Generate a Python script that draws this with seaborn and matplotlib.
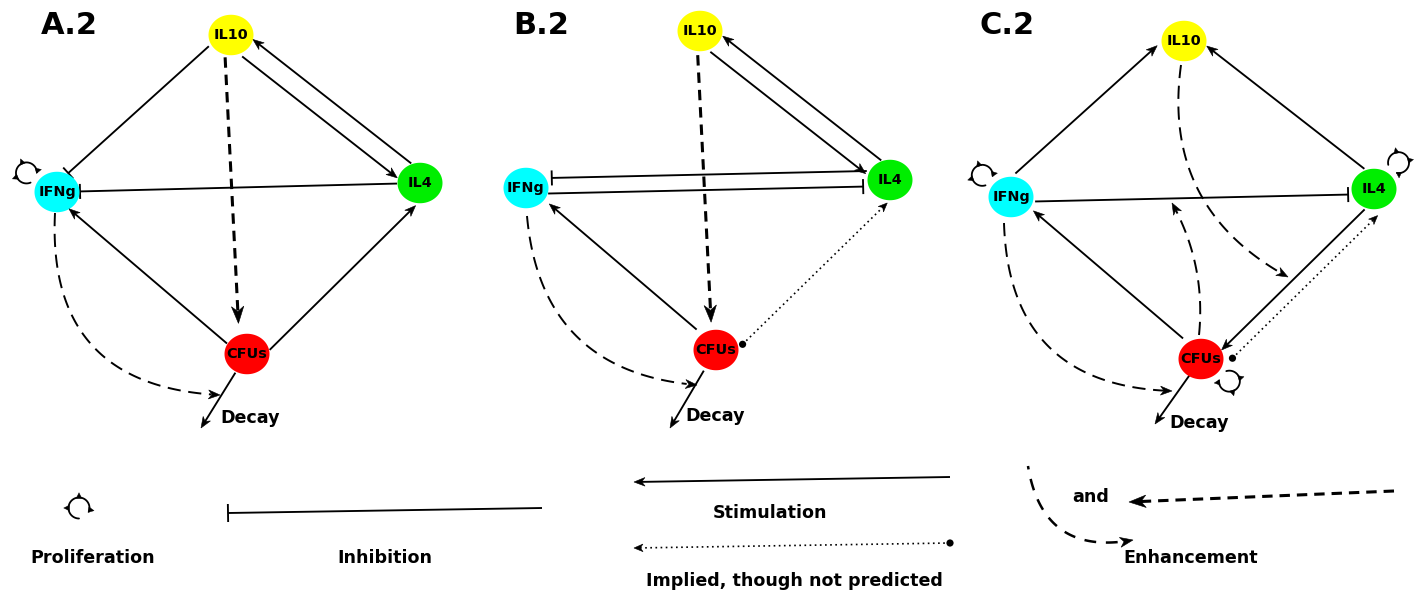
import numpy as np
import pandas as pd
import matplotlib
matplotlib.use("Agg")
import matplotlib.pyplot as plt
from matplotlib.path import Path
from matplotlib.patches import Polygon, Circle
import seaborn as sns

# ---------------------------------------------------------------- data
panels = ["A.2", "B.2", "C.2"]
nodes = ["IL10", "IFNg", "IL4", "CFUs"]
node_colors = ["#ffff00", "#00ffff", "#00ee00", "#ff0000"]

# interactions of each network: (source, target, kind)
edges = {
    "A.2": [("IL10", "IFNg", "inhibition"), ("IL10", "IL4", "stimulation"),
            ("IL4", "IL10", "stimulation"), ("IL4", "IFNg", "inhibition"),
            ("IL10", "CFUs", "enhancement"), ("CFUs", "IFNg", "stimulation"),
            ("CFUs", "IL4", "stimulation")],
    "B.2": [("IL10", "IL4", "stimulation"), ("IL4", "IL10", "stimulation"),
            ("IL4", "IFNg", "inhibition"), ("IFNg", "IL4", "inhibition"),
            ("IL10", "CFUs", "enhancement"), ("CFUs", "IFNg", "stimulation"),
            ("CFUs", "IL4", "implied")],
    "C.2": [("IFNg", "IL10", "stimulation"), ("IL4", "IL10", "stimulation"),
            ("IFNg", "IL4", "inhibition"), ("CFUs", "IFNg", "stimulation"),
            ("IL4", "CFUs", "stimulation"), ("CFUs", "IL4", "implied")],
}
# self-proliferating species
proliferation = {"A.2": ["IFNg"], "B.2": [], "C.2": ["IFNg", "IL4", "CFUs"]}
# enhancing (curved, dashed) influences: source species
enhancers = {"A.2": ["IFNg"], "B.2": ["IFNg"], "C.2": ["IFNg", "IL10", "CFUs"]}

legend_labels = ["Proliferation", "Inhibition", "Stimulation",
                 "Implied, though not predicted", "and", "Enhancement"]

# ---------------------------------------------------------------- layout
node_x = {"A.2": [231, 57, 420, 247], "B.2": [700, 526, 890, 716],
          "C.2": [1184, 1011, 1374, 1201]}
node_y = {"A.2": [35, 192, 183, 354], "B.2": [31, 188, 180, 350],
          "C.2": [41, 197, 189, 359]}
label_pos = {"A.2": (69, 25), "B.2": (541, 25), "C.2": (1007, 25)}
# per edge: (perpendicular offset, gap at source, gap at target)
edge_geom = {
    "A.2": [(6.5, 24, 21), (10, 22, 21), (10, 19, 20), (0, 23, 23),
            (7, 22, 31), (-5, 22, 20), (13, 19, 19)],
    "B.2": [(10, 21, 23), (10, 19, 21), (9.5, 23, 26), (6, 22, 27),
            (3.5, 24, 28), (3, 28, 28), (14.5, 23, 18)],
    "C.2": [(-14.5, 19, 23), (10, 20, 21), (5, 24, 26), (4, 27, 26),
            (-8, 21, 21), (21.5, 23, 16)],
}
# decay arrow of the CFUs: tip, gap at node, label position
decay_tip = {"A.2": (201, 428), "B.2": (670, 428), "C.2": (1155, 424)}
decay_gap = {"A.2": 22, "B.2": 24, "C.2": 15}
decay_label = {"A.2": (250, 418), "B.2": (715, 416), "C.2": (1199, 423)}
# loop direction (degrees, screen y downward) from each proliferating node
loop_dir = {"A.2": [-148], "B.2": [], "C.2": [-143, -47, 38]}
# enhancement curves: start offset from node, end point, bend
enh_geom = {
    "A.2": [((-2, 21), (220, 395), 0.50)],
    "B.2": [((1, 28), (697, 385), 0.42)],
    "C.2": [((-7, 26), (1172, 391), 0.47), ((-3, 24), (1288, 277), 0.345),
            ((-2, -24), (1172, 203), 0.156)],
}

# ---------------------------------------------------------------- style
sns.set_theme(style="white")
plt.rcParams["font.family"] = ["DejaVu Sans"]
plt.rcParams["lines.scale_dashes"] = False

LW = 1.35
DASH_THICK = (0, (7.5, 5))
DASH_CURVE = (0, (9.5, 5.5))
DOTTED = (0, (1.2, 2.5))

W, H = 1423, 593
fig = plt.figure(figsize=(W / 100, H / 100), dpi=100)
ax = fig.add_axes([0, 0, 1, 1])
ax.set_xlim(0, W)
ax.set_ylim(H, 0)
ax.axis("off")


def unit(v):
    v = np.asarray(v, float)
    return v / np.linalg.norm(v)


def head(tip, direction, length, half_w, notch=0.3):
    tip = np.asarray(tip, float)
    d = unit(direction)
    n = np.array([-d[1], d[0]])
    base = tip - d * length
    pts = [tip, base + n * half_w, tip - d * length * (1 - notch), base - n * half_w]
    ax.add_patch(Polygon(pts, closed=True, fc="black", ec="black", lw=0.4, zorder=5))


def line(S, E, **kw):
    ax.plot([S[0], E[0]], [S[1], E[1]], color="black", solid_capstyle="butt",
            dash_capstyle="butt", zorder=2, **kw)


def segment(S, E, kind, bar=15):
    S = np.asarray(S, float)
    E = np.asarray(E, float)
    d = unit(E - S)
    n = np.array([-d[1], d[0]])
    if kind == "stimulation":
        line(S, E - d * 6, lw=LW)
        head(E, d, 11, 4.3)
    elif kind == "inhibition":
        line(S, E, lw=LW)
        line(E + n * bar / 2, E - n * bar / 2, lw=LW)
    elif kind == "enhancement":
        line(S, E - d * 12, lw=2.2, ls=DASH_THICK)
        head(E, d, 17, 6.2)
    elif kind == "implied":
        line(S, E - d * 5, lw=1.2, ls=DOTTED)
        ax.add_patch(Circle(S, 3.6, fc="black", ec="none", zorder=5))
        head(E, d, 9, 3.8)


def curve(S, E, rad, lw=1.4, ls=DASH_CURVE, hl=11.5, hw=4.5):
    S = np.asarray(S, float)
    E = np.asarray(E, float)
    M = (S + E) / 2
    dx, dy = E - S
    C = M + rad * np.array([-dy, dx])
    t = np.linspace(0, 1, 120)[:, None]
    pts = (1 - t) ** 2 * S + 2 * (1 - t) * t * C + t ** 2 * E
    tang = E - C
    # stop the stroke just behind the arrow head
    keep = np.linalg.norm(pts - E, axis=1) >= hl * 0.7
    ax.plot(pts[keep, 0], pts[keep, 1], color="black", lw=lw, ls=ls,
            dash_capstyle="butt", zorder=2)
    head(E, tang, hl, hw)


def loop(center, gap, r=10.5):
    cx, cy = center
    ang = np.radians(np.linspace(gap + 35, gap + 325, 80))
    ax.plot(cx + r * np.cos(ang), cy + r * np.sin(ang), color="black", lw=1.3,
            zorder=2)
    for a in (gap - 45, gap - 145, gap - 235):
        a0 = np.radians(a)
        tip = (cx + (r + 4.8) * np.cos(a0), cy + (r + 4.8) * np.sin(a0))
        b1 = (cx + (r - 0.5) * np.cos(a0 + 0.28), cy + (r - 0.5) * np.sin(a0 + 0.28))
        b2 = (cx + (r - 0.5) * np.cos(a0 - 0.28), cy + (r - 0.5) * np.sin(a0 - 0.28))
        ax.add_patch(Polygon([tip, b1, b2], closed=True, fc="black", ec="black",
                             lw=0.3, zorder=5))


# ---------------------------------------------------------------- networks
rows = []
for p in panels:
    pos = {nm: np.array([x, y], float)
           for nm, x, y in zip(nodes, node_x[p], node_y[p])}

    for (src, tgt, kind), (off, sa, sb) in zip(edges[p], edge_geom[p]):
        P, Q = pos[src], pos[tgt]
        d = unit(Q - P)
        n = np.array([-d[1], d[0]])
        segment(P + d * sa + n * off, Q - d * sb + n * off, kind)

    # decay of the CFUs
    c = pos["CFUs"]
    tip = np.array(decay_tip[p], float)
    segment(c + unit(tip - c) * decay_gap[p], tip, "stimulation")
    ax.text(*decay_label[p], "Decay", ha="center", va="center",
            fontsize=12.6, fontweight="bold", color="black", zorder=6)

    for nm, (soff, end, rad) in zip(enhancers[p], enh_geom[p]):
        curve(pos[nm] + np.array(soff, float), end, rad)

    for nm, a in zip(proliferation[p], loop_dir[p]):
        a0 = np.radians(a)
        centre = pos[nm] + 36 * np.array([np.cos(a0), np.sin(a0)])
        loop(centre, a + 180)

    for nm in nodes:
        rows.append({"panel": p, "node": nm, "x": pos[nm][0], "y": pos[nm][1]})

    ax.text(*label_pos[p], p, ha="center", va="center", fontsize=22,
            fontweight="bold", color="black")

df = pd.DataFrame(rows)
theta = np.linspace(0, 2 * np.pi, 73)
ellipse = Path(np.column_stack([np.cos(theta), 0.9 * np.sin(theta)]))
sns.scatterplot(data=df, x="x", y="y", hue="node", hue_order=nodes,
                palette=dict(zip(nodes, node_colors)), marker=ellipse, s=1050,
                linewidth=0, legend=False, ax=ax, zorder=4)
for _, r in df.iterrows():
    ax.text(r["x"], r["y"], r["node"], ha="center", va="center", fontsize=10.4,
            fontweight="bold", color="black", zorder=6)
ax.set_xlim(0, W)
ax.set_ylim(H, 0)
ax.set_xlabel("")
ax.set_ylabel("")

# ---------------------------------------------------------------- key
loop((79, 508), 55)
segment((542, 508), (228, 513), "inhibition", bar=18)
segment((950, 477), (634, 482), "stimulation")
segment((950, 543), (634, 548), "implied")
curve((1028, 466), (1133, 540), 0.51, lw=1.8, ls=(6, (8.5, 7)), hl=13, hw=5)
segment((1394, 491), (1129, 502), "enhancement")

key_pos = [(93, 558), (385, 558), (770, 513), (794, 581), (1091, 497), (1191, 558)]
for (x, y), txt in zip(key_pos, legend_labels):
    ax.text(x, y, txt, ha="center", va="center", fontsize=12.6,
            fontweight="bold", color="black")

fig.savefig("out.png", dpi=100, facecolor="white")
